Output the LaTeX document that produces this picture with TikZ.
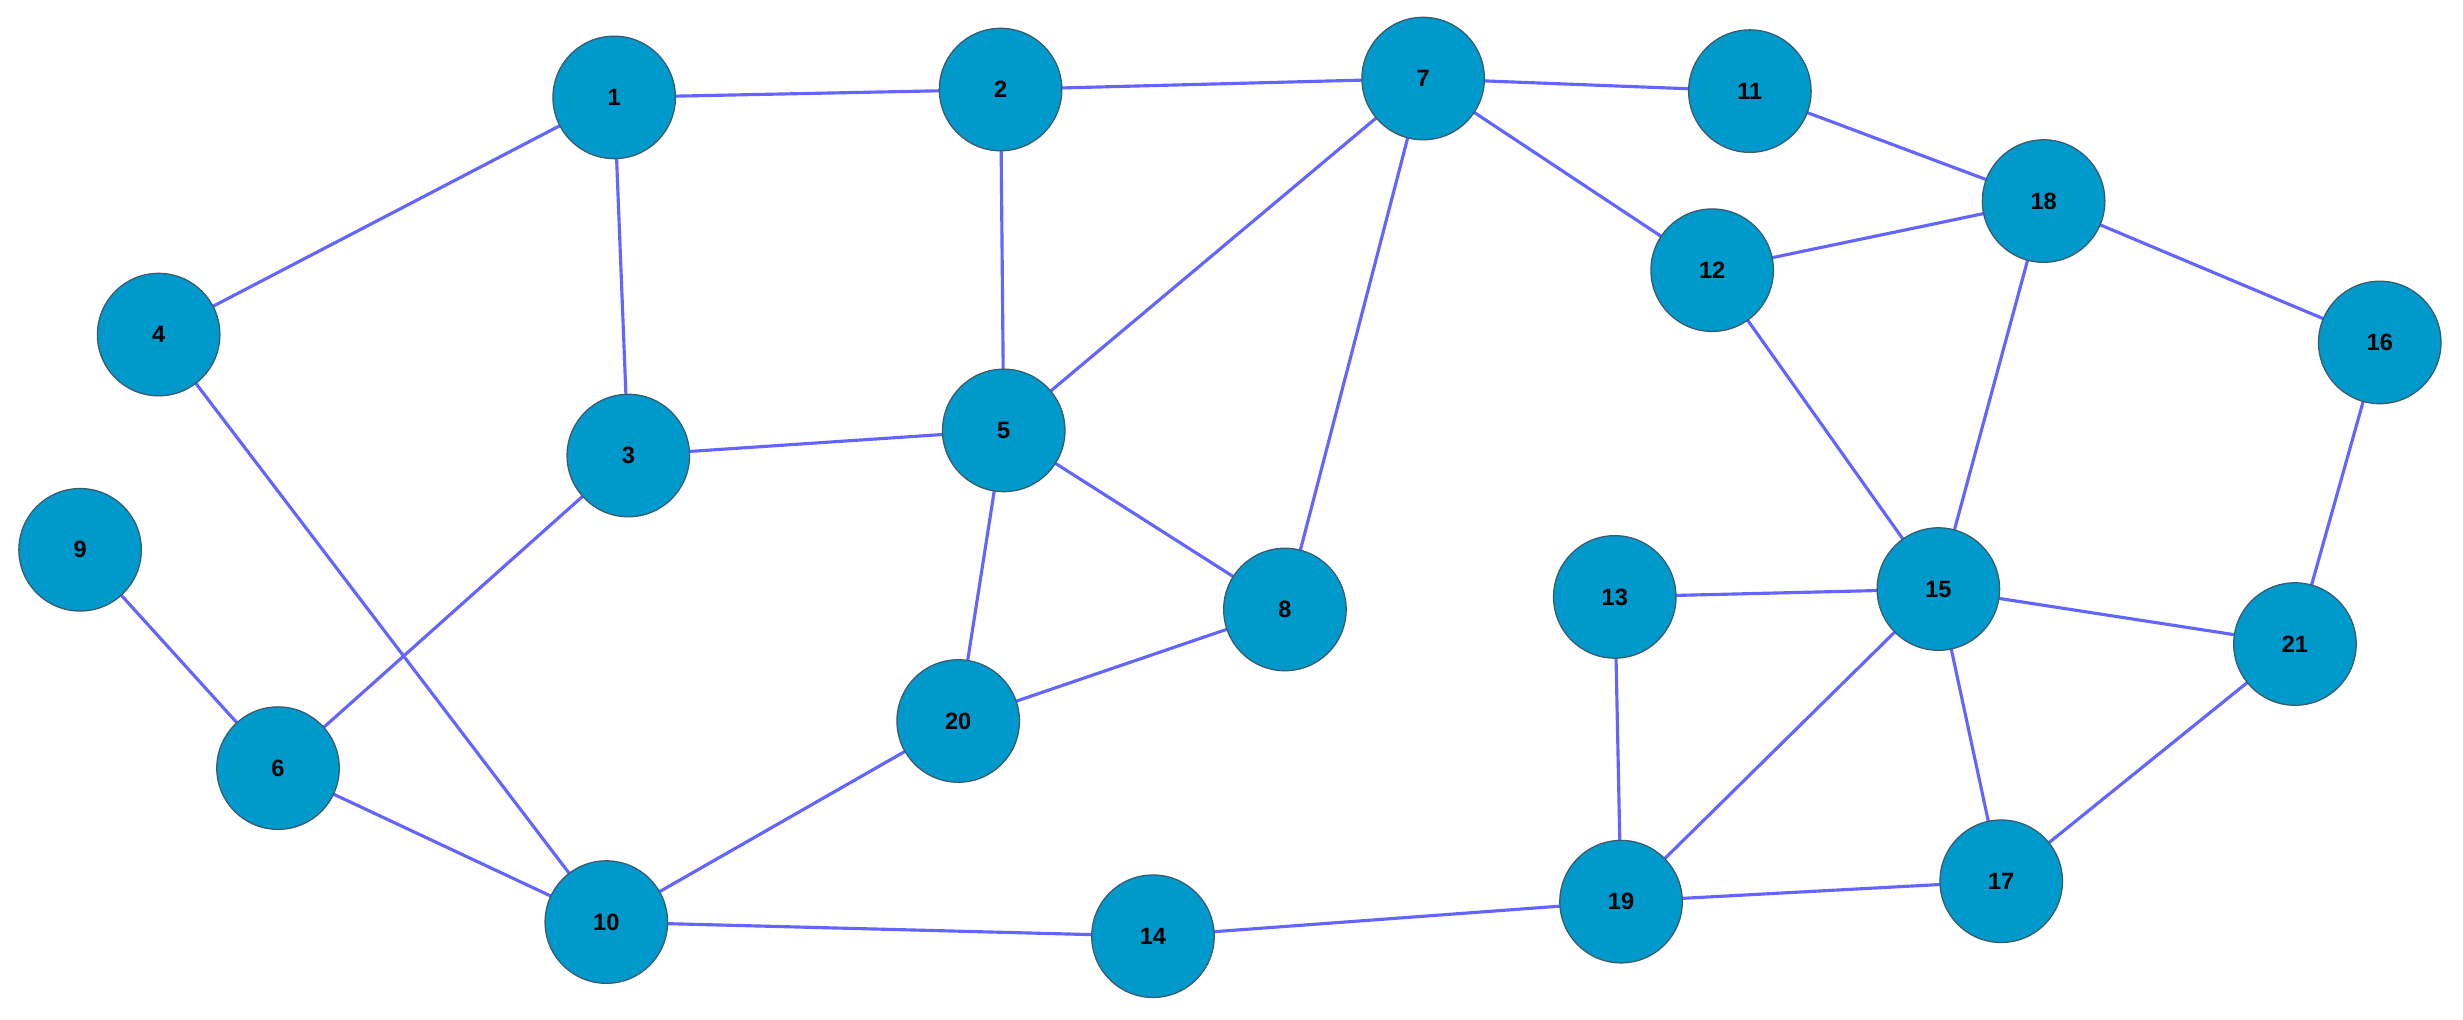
\documentclass[tikz,border=0pt]{standalone}
\usepackage{fontspec}
\setmainfont{Liberation Sans}
\definecolor{nodefill}{RGB}{0,153,204}
\definecolor{edgecol}{RGB}{100,100,255}
\definecolor{nodeborder}{RGB}{60,90,110}
\begin{document}
\begin{tikzpicture}[x=1pt,y=-1pt,
  vert/.style={circle,fill=nodefill,draw=nodeborder,line width=0.8pt,minimum size=78pt,inner sep=0pt,font=\fontsize{15}{18}\selectfont\bfseries},
  edge/.style={draw=edgecol,line width=2pt}]
\useasboundingbox (0,0) rectangle (1568,649);
\foreach \n/\x/\y in {1/391/62,2/637/57,3/400/290,4/101/213,5/639/274,6/177/489,7/906/50,8/818/388,9/51/350,10/386/587,11/1114/58,12/1090/172,13/1028/380,14/734/596,15/1234/375,16/1515/218,17/1274/561,18/1301/128,19/1032/574,20/610/459,21/1461/410}
  \coordinate (c\n) at (\x,\y);
\foreach \a/\b in {1/2,2/7,7/11,1/4,1/3,2/5,7/5,7/8,7/12,11/18,12/18,18/16,18/15,12/15,4/10,3/5,3/6,9/6,6/10,5/8,5/20,20/8,20/10,10/14,14/19,19/17,13/15,13/19,15/19,15/21,15/17,16/21,21/17}
  \draw[edge] (c\a) -- (c\b);
\foreach \n in {1,...,21}
  \node[vert] (n\n) at (c\n) {\n};
\end{tikzpicture}
\end{document}
